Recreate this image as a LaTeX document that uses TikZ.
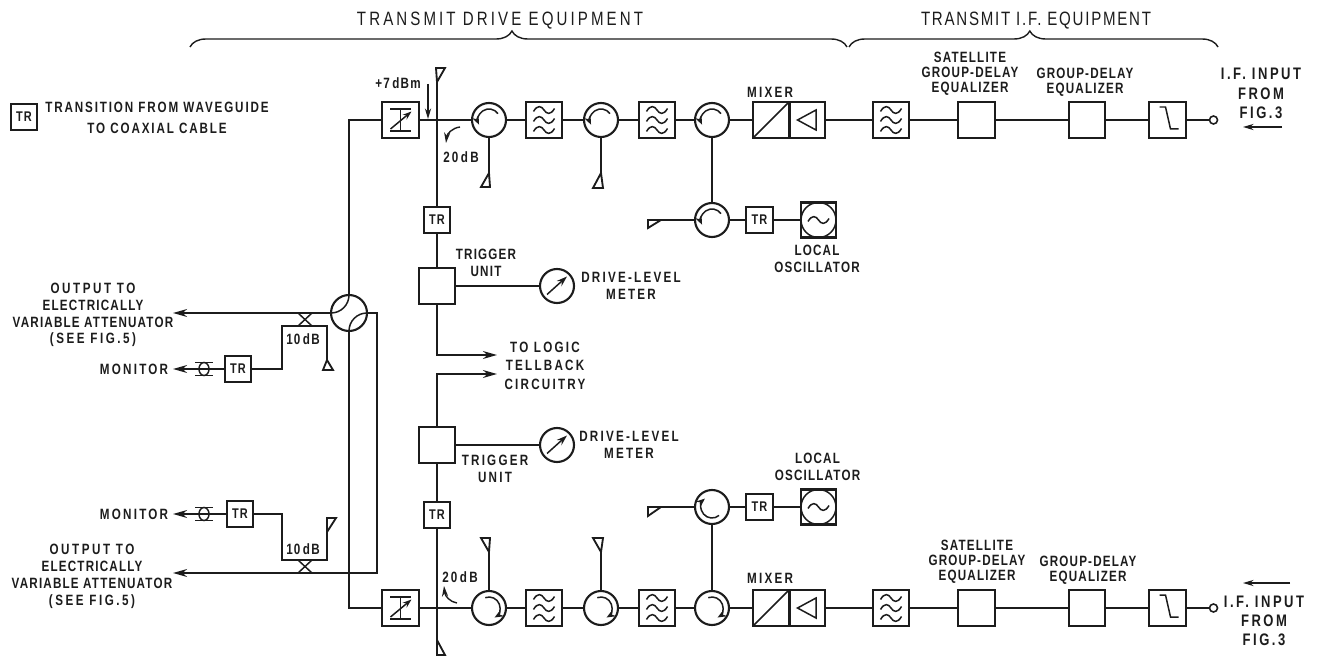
\documentclass[tikz,border=0pt]{standalone}
\usepackage{fontspec}
\setmainfont[FakeStretch=0.78,LetterSpace=8]{Liberation Sans}
\usetikzlibrary{
  arrows.meta,calc,
  decorations.pathreplacing
}
\definecolor{inkdark}{HTML}{1C1C1C}
\newcommand{\tildewave}[1]{(-0.21cm,#1cm-0.03cm) .. controls (-0.13cm,#1cm+0.11cm) and (-0.05cm,#1cm+0.08cm) .. (0cm,#1cm) .. controls (0.05cm,#1cm-0.08cm) and (0.13cm,#1cm-0.11cm) .. (0.21cm,#1cm+0.03cm)}
\newcommand{\spaced}[1]{{\addfontfeature{LetterSpace=17}#1}}
\tikzset{
  wire/.style={line width=1.05pt, line join=miter},
  feed/.style={wire, -{Stealth[length=8pt,width=4.5pt]}},
  thinfeed/.style={line width=0.8pt, -{Stealth[length=6pt,width=3.5pt]}},
  sym/.style={shift={(path picture bounding box.center)}, line width=0.85pt},
  lab/.style={align=center, inner sep=0pt, font=\fontsize{8.5pt}{9.6pt}\selectfont\bfseries},
  labw/.style={lab, font=\fontsize{8.5pt}{9.6pt}\selectfont\bfseries\addfontfeature{LetterSpace=15}},
  labk/.style={lab, font=\fontsize{8.5pt}{9.6pt}\selectfont\bfseries\addfontfeature{LetterSpace=12.5}},
  labb/.style={lab, font=\fontsize{9.5pt}{11pt}\selectfont\bfseries\addfontfeature{LetterSpace=15}},
  head/.style={align=center, inner sep=0pt, font=\fontsize{11pt}{12pt}\selectfont\addfontfeature{LetterSpace=16}},
  % square blocks
  blk/.style={draw, line width=1.2pt, minimum size=0.73cm, inner sep=0pt},
  tr/.style={draw, line width=1.2pt, minimum size=0.53cm, inner sep=0pt, font=\fontsize{8pt}{9pt}\selectfont\bfseries},
  att/.style={blk, path picture={
    \draw[sym] (-0.21cm,0.22cm) -- (0.21cm,0.22cm) (-0.21cm,-0.22cm) -- (0.21cm,-0.22cm) (0cm,0.22cm) -- (0cm,-0.22cm);
    \draw[sym, -{Stealth[length=5pt,width=3.5pt]}] (-0.2cm,-0.18cm) -- (0.22cm,0.17cm);}},
  fil/.style={blk, path picture={
    \draw[sym] \tildewave{0.2} \tildewave{0} \tildewave{-0.2};}},
  mix/.style={blk, path picture={
    \draw[sym] (path picture bounding box.south west) -- (path picture bounding box.north east);}},
  amp/.style={blk, minimum width=0.7cm, path picture={
    \draw[sym] (-0.2cm,0cm) -- (0.17cm,0.2cm) -- (0.17cm,-0.2cm) -- cycle;}},
  lopass/.style={blk, path picture={
    \draw[sym] (-0.16cm,0.26cm) -- (-0.04cm,0.26cm) -- (0.06cm,-0.18cm) -- (0.22cm,-0.18cm);}},
  losc/.style={blk, minimum size=0.7cm, path picture={
    \draw[sym] (0cm,0cm) circle[radius=0.35cm];
    \draw[sym] \tildewave{0};}},
  % round blocks
  rnd/.style={draw, circle, line width=1.2pt, minimum size=0.68cm, inner sep=0pt},
  cirtop/.style={rnd, path picture={
    \draw[sym, -{Stealth[length=5pt,width=4pt]}] (35:0.22cm) arc[start angle=35, end angle=205, radius=0.22cm];}},
  cirbot/.style={rnd, path picture={
    \draw[sym, -{Stealth[length=5pt,width=4pt]}] (110:0.22cm) arc[start angle=110, end angle=-60, radius=0.22cm];}},
  cirlo/.style={rnd, path picture={
    \draw[sym, -{Stealth[length=5pt,width=4pt]}] (-50:0.22cm) arc[start angle=-50, end angle=-230, radius=0.22cm];}},
  meter/.style={rnd, path picture={
    \draw[sym, -{Stealth[length=6pt,width=4pt]}] (-0.2cm,-0.17cm) -- (0.2cm,0.19cm);}},
  hybrid/.style={rnd, minimum size=0.72cm, path picture={
    \draw[sym] (0cm,0.36cm) arc[start angle=0, end angle=-90, radius=0.36cm];
    \draw[sym] (0.36cm,0cm) arc[start angle=90, end angle=180, radius=0.36cm];}},
  term/.style={draw, circle, line width=0.9pt, minimum size=0.16cm, inner sep=0pt},
  coax/.style={minimum width=0.36cm, minimum height=0.3cm, inner sep=0pt, path picture={
    \draw[sym] (-0.18cm,0cm) -- (0.18cm,0cm);
    \draw[sym] (-0.18cm,0.13cm) -- (0.18cm,0.13cm) (-0.18cm,-0.13cm) -- (0.18cm,-0.13cm);
    \draw[sym] (0cm,0cm) ellipse[x radius=0.1cm, y radius=0.13cm];}},
  xcpl/.style={minimum width=0.28cm, minimum height=0.26cm, inner sep=0pt, path picture={
    \draw[sym] (-0.14cm,0.13cm) -- (0.14cm,-0.13cm) (-0.14cm,-0.13cm) -- (0.14cm,0.13cm);}},
}
\begin{document}
\begin{tikzpicture}[x=0.02cm,y=-0.02cm,color=inkdark]
  \useasboundingbox (0,0) rectangle (1317,658);
  % the two long rows
  \foreach \n/\y/\c in {t/120/cirtop, b/608/cirbot} {
    \node[att] (att\n) at (400.5,\y) {};
    \node[\c] (cira\n) at (489,\y) {};
    \node[fil] (fila\n) at (544,\y) {};
    \node[\c] (cirb\n) at (601,\y) {};
    \node[fil] (filb\n) at (657,\y) {};
    \node[\c] (circ\n) at (712,\y) {};
    \node[mix] (mix\n) at (771,\y) {};
    \node[amp] (amp\n) at (807.5,\y) {};
    \node[fil] (filc\n) at (891,\y) {};
    \node[blk] (sat\n) at (976.5,\y) {};
    \node[blk] (grp\n) at (1087,\y) {};
    \node[lopass] (lop\n) at (1167.5,\y) {};
    \node[term] (inp\n) at (1213.5,\y) {};
    \draw[wire] (att\n) -- (cira\n) -- (fila\n) -- (cirb\n) -- (filb\n) -- (circ\n) -- (mix\n);
    \draw[wire] (amp\n) -- (filc\n) -- (sat\n) -- (grp\n) -- (lop\n) -- (inp\n);
  }
  % local oscillator branches
  \foreach \n/\y/\c in {t/220/cirtop, b/507/cirlo} {
    \node[\c] (ciro\n) at (712,\y) {};
    \node[tr] (trl\n) at (759.5,\y) {TR};
    \node[losc] (lo\n) at (818.5,\y) {};
    \draw[wire] (circ\n) -- (ciro\n) -- (trl\n) -- (lo\n);
  }
  % terminations: name/apex/the other two corners
  \foreach \n/\x/\y/\ax/\ay/\bx/\by in {
      antt/437/82/8/-14/-9/0, antb/437/640/0/15/8/0,
      loada t/489/173/-8/14/9/0, loadb t/601/173/-8/15/10/0,
      loada b/489/552/-8/-14/9/0, loadb b/601/552/-8/-14/10/0,
      loadl t/661/220/-13/0/0/8, loadl b/661/507/-13/0/0/9,
      loadc t/327/360/-4/10/10/0, loadc b/327/532/0/-14/9/0} {
    \coordinate (\n) at (\x,\y);
    \draw[wire] (\n) -- ++(\ax,\ay) -- ++(\bx,\by) -- cycle;
  }
  \draw[wire] (cirat) -- (loada t);
  \draw[wire] (cirbt) -- (loadb t);
  \draw[wire] (cirab) -- (loada b);
  \draw[wire] (cirbb) -- (loadb b);
  \draw[wire] (cirot) -- (loadl t);
  \draw[wire] (cirob) -- (loadl b);
  % centre column
  \node[tr] (trct) at (437,220) {TR};
  \node[blk] (trgt) at (437,286) {};
  \node[meter] (mett) at (557,286) {};
  \node[blk] (trgb) at (437,445) {};
  \node[meter] (metb) at (557,445) {};
  \node[tr] (trcb) at (437,515) {TR};
  \coordinate (logt) at (497,355);
  \coordinate (logb) at (497,374);
  \draw[wire] (antt) -- (trct) -- (trgt);
  \draw[wire] (trgt) -- (mett);
  \draw[wire] (antb) -- (trcb) -- (trgb);
  \draw[wire] (trgb) -- (metb);
  \draw[feed] (trgt.south) |- (logt);
  \draw[feed] (trgb.north) |- (logb);
  % left hand side
  \node[hybrid] (hyb) at (349,313) {};
  \coordinate (outt) at (173,313);
  \coordinate (outb) at (173,573);
  \coordinate (hybc) at (377,573);
  \draw[wire] (hyb.north) |- (attt.west);
  \draw[wire] (hyb.south) |- (attb.west);
  \draw[feed] (hyb.west) -- (outt);
  \draw[feed] (hyb.east) -| (hybc) -- (outb);
  \foreach \n/\y/\m/\d/\f/\g in {t/369/326/319.5/238/204, b/514/560/566.5/240/204} {
    \node[tr] (trm\n) at (\f,\y) {TR};
    \node[coax] (cox\n) at (\g,\y) {};
    \node[xcpl] (xc\n) at (305,\d) {};
    \coordinate (mon\n) at (173,\y);
    \coordinate (cpl\n) at (282,\m);
    \draw[wire] (trm\n) -- (cox\n);
    \draw[feed] (cox\n) -- (mon\n);
    \draw[wire] (trm\n.east) -| (cpl\n) -- (cpl\n -| loadc \n) -- (loadc \n);
  }
  % drive level arrow and the 20 dB taps
  \coordinate (dbma) at (428,84);
  \coordinate (dbmb) at (428,119);
  \coordinate (tapa) at (460,127);
  \coordinate (tapb) at (446,143);
  \coordinate (tapc) at (457,603);
  \coordinate (tapd) at (444,586);
  \draw[thinfeed] (dbma) -- (dbmb);
  \draw[thinfeed] (tapa) .. controls (452,128) and (447,134) .. (tapb);
  \draw[thinfeed] (tapc) .. controls (450,602) and (445,596) .. (tapd);
  % input arrows
  \coordinate (inat) at (1282,127);
  \coordinate (inbt) at (1243,127);
  \coordinate (inab) at (1290,583);
  \coordinate (inbb) at (1243,583);
  \draw[thinfeed] (inat) -- (inbt);
  \draw[thinfeed] (inab) -- (inbb);
  % braces
  \coordinate (brca) at (190,47);
  \coordinate (brcb) at (847,47);
  \coordinate (brcc) at (849,47);
  \coordinate (brcd) at (1218,47);
  \draw[line width=0.8pt, decorate, decoration={brace, amplitude=0.32cm, aspect=0.49}] (brca) -- (brcb);
  \draw[line width=0.8pt, decorate, decoration={brace, amplitude=0.32cm, aspect=0.49}] (brcc) -- (brcd);
  % texts
  \node[head] (hdrv) at (500,21) {TRANSMIT DRIVE EQUIPMENT};
  \node[head, font=\fontsize{11pt}{12pt}\selectfont\addfontfeature{LetterSpace=9}] (hif) at (1036,21) {TRANSMIT I.F. EQUIPMENT};
  \node[tr] (trkey) at (24,117) {TR};
  \node[labk] (keytxt) at (157,118) {TRANSITION FROM WAVEGUIDE\\[2pt]TO COAXIAL CABLE};
  \node[lab] (dbm) at (398,83) {+7\,dBm};
  \node[labw] (tapt) at (461,157) {20\,dB};
  \node[labw] (tapl) at (460,577) {20\,dB};
  \node[labw] (mixt) at (770,92) {MIXER};
  \node[labw] (mixl) at (770,578) {MIXER};
  \node[lab] (satt) at (970,73.5) {SATELLITE\\[-1pt]GROUP-DELAY\\[-1pt]EQUALIZER};
  \node[lab] (grpt) at (1085,82) {GROUP-DELAY\\[-1pt]EQUALIZER};
  \node[lab] (satl) at (977,562) {SATELLITE\\[-1pt]GROUP-DELAY\\[-1pt]EQUALIZER};
  \node[lab] (grpl) at (1088,570) {GROUP-DELAY\\[-1pt]EQUALIZER};
  \node[labb] (inlt) at (1261,93.5) {I.F. INPUT\\FROM\\FIG.3};
  \node[labb] (inll) at (1264,621) {I.F. INPUT\\FROM\\FIG.3};
  \node[lab] (lblg) at (486,262.5) {TRIGGER\\UNIT};
  \node[labw] (lbmt) at (631,286) {DRIVE-LEVEL\\METER};
  \node[labw] (lblog) at (545,365.5) {TO LOGIC\\[1pt]TELLBACK\\[1pt]CIRCUITRY};
  \node[labw] (lbmb) at (629,445) {DRIVE-LEVEL\\METER};
  \node[labw] (lbgb) at (495,469) {TRIGGER\\UNIT};
  \node[lab] (lolt) at (817,259) {LOCAL\\OSCILLATOR};
  \node[lab] (loll) at (817.5,467) {LOCAL\\OSCILLATOR};
  \node[lab] (outtl) at (93,315) {\spaced{OUTPUT TO}\\ELECTRICALLY\\VARIABLE ATTENUATOR\\\spaced{(SEE FIG.\,5)}};
  \node[lab] (outbl) at (92,576.5) {\spaced{OUTPUT TO}\\ELECTRICALLY\\VARIABLE ATTENUATOR\\\spaced{(SEE FIG.\,5)}};
  \node[labw] (mont) at (134,369) {MONITOR};
  \node[labw] (monb) at (134,514) {MONITOR};
  \node[lab] (cplat) at (303,339) {10\,dB};
  \node[lab] (cplab) at (303,549) {10\,dB};
\end{tikzpicture}
\end{document}
